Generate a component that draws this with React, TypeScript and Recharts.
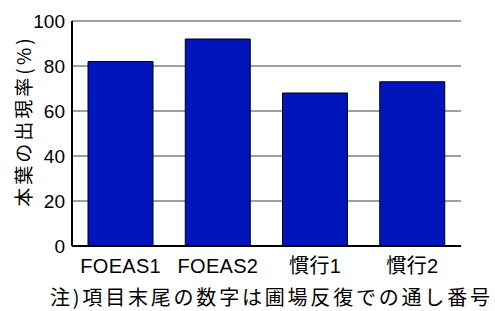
import { BarChart, Bar, XAxis, YAxis, CartesianGrid, Label } from "recharts";

const categories = ["FOEAS1", "FOEAS2", "慣行1", "慣行2"];
const rates = [82, 92, 68, 73];
const yTicks = [0, 20, 40, 60, 80, 100];
const yTitle = "本葉の出現率(%)";
const note = "注)項目末尾の数字は圃場反復での通し番号";

const data = categories.map((name, i) => ({ name, rate: rates[i] }));

const FONT = "'Liberation Sans', Arial, 'Noto Sans CJK JP', sans-serif";

export default function App() {
  return (
    <div
      style={{
        position: "absolute",
        left: 0,
        top: 0,
        width: 495,
        height: 311,
        background: "#fff",
        fontFamily: FONT,
      }}
    >
      <BarChart
        width={495}
        height={311}
        data={data}
        margin={{ top: 21, right: 34, left: 0, bottom: 35 }}
        barSize={65}
      >
        <CartesianGrid vertical={false} stroke="#808080" strokeWidth={1.5} />
        <XAxis
          dataKey="name"
          axisLine={{ stroke: "#000", strokeWidth: 2 }}
          tickLine={false}
          tickMargin={7}
          height={30}
          tick={{ fill: "#000", fontSize: 20, fontFamily: FONT, letterSpacing: 0.3 }}
        />
        <YAxis
          domain={[0, 100]}
          ticks={yTicks}
          width={72}
          axisLine={{ stroke: "#000", strokeWidth: 2 }}
          tickLine={false}
          tickMargin={1}
          tick={{ fill: "#000", fontSize: 19, fontFamily: FONT }}
        >
          <Label
            content={() => (
              <text
                x={22}
                y={121}
                transform="rotate(-90, 22, 121)"
                textAnchor="middle"
                dominantBaseline="central"
                fill="#000"
                fontSize={19}
                letterSpacing={3}
                fontFamily="'Noto Sans CJK JP', sans-serif"
              >
                {yTitle}
              </text>
            )}
          />
        </YAxis>
        <Bar
          dataKey="rate"
          fill="#0015BC"
          stroke="#000"
          strokeWidth={1}
          isAnimationActive={false}
        />
      </BarChart>
      <div
        style={{
          position: "absolute",
          left: 50,
          top: 284,
          fontSize: 20,
          letterSpacing: 2.8,
          lineHeight: "26px",
          whiteSpace: "nowrap",
          color: "#000",
          fontFamily: "'Noto Sans CJK JP', sans-serif",
        }}
      >
        {note}
      </div>
    </div>
  );
}
